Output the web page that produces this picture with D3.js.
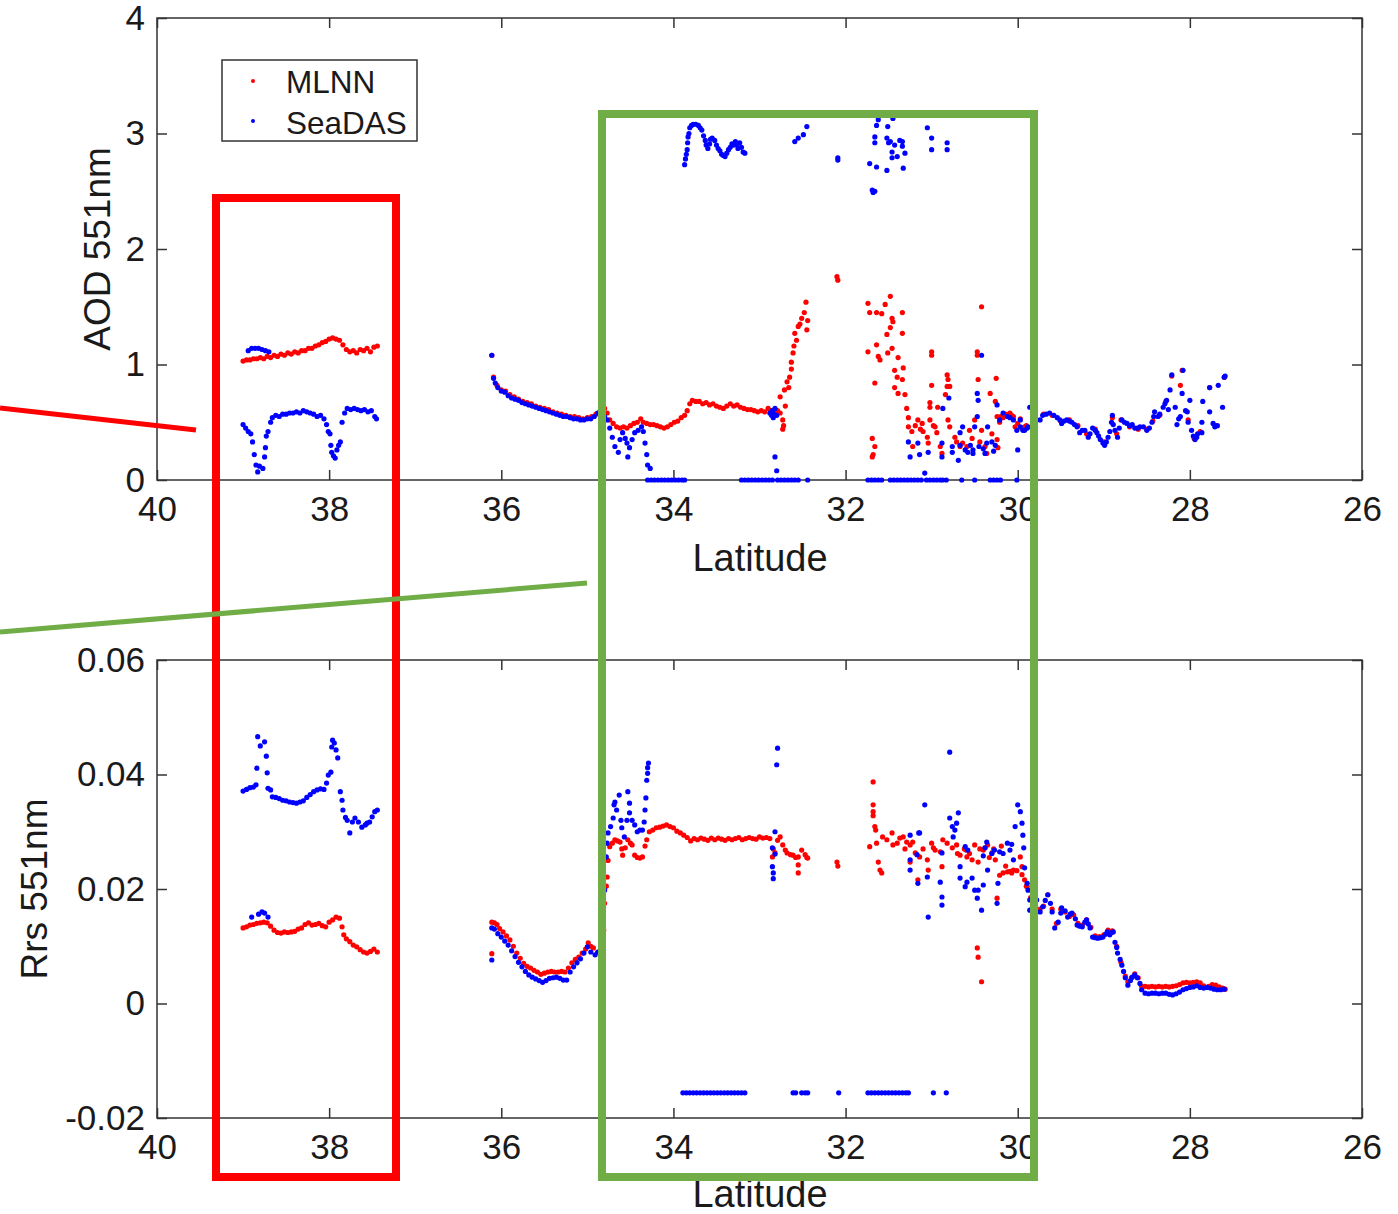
<!DOCTYPE html>
<html>
<head>
<meta charset="utf-8">
<script src="https://cdn.jsdelivr.net/npm/d3@7"></script>
<style>
  body { margin: 0; background: #fff; }
  text { font-family: "Liberation Sans", Arial, sans-serif; fill: #1a1a1a; }
</style>
</head>
<body>
<script>
// latitude ticks (x runs from 40 down to 26)
const latTicks = [40, 38, 36, 34, 32, 30, 28, 26];
const aodTicks = [0, 1, 2, 3, 4];
const rrsTicks = [-0.02, 0, 0.02, 0.04, 0.06];
const rrsTickLabels = ['-0.02', '0', '0.02', '0.04', '0.06'];
const seriesNames = ['MLNN', 'SeaDAS'];

// AOD 551nm, MLNN  [latitude, value]
const aodMlnn = [
  [39.00,1.03],[38.96,1.04],[38.92,1.04],[38.88,1.05],[38.84,1.05],[38.80,1.06],[38.76,1.05],[38.72,1.07],[38.68,1.06],[38.64,1.08],
  [38.60,1.07],[38.56,1.09],[38.52,1.08],[38.48,1.10],[38.44,1.09],[38.40,1.11],[38.36,1.10],[38.32,1.12],[38.28,1.12],[38.24,1.14],
  [38.20,1.14],[38.16,1.16],[38.12,1.17],[38.08,1.19],[38.04,1.20],[38.00,1.22],[37.96,1.23],[37.92,1.22],[37.88,1.21],[37.84,1.17],
  [37.80,1.13],[37.76,1.11],[37.72,1.12],[37.68,1.10],[37.64,1.13],[37.60,1.12],[37.56,1.14],[37.52,1.11],[37.48,1.15],[37.44,1.16],
  [36.11,1.08],[36.09,0.89],[36.05,0.82],[36.00,0.78],[35.95,0.77],[35.90,0.74],[35.85,0.72],[35.80,0.70],[35.75,0.68],[35.70,0.67],
  [35.65,0.66],[35.60,0.64],[35.55,0.63],[35.50,0.62],[35.45,0.61],[35.40,0.59],[35.35,0.58],[35.30,0.57],[35.25,0.56],[35.20,0.55],
  [35.15,0.55],[35.10,0.54],[35.05,0.53],[35.00,0.54],[34.95,0.55],[34.90,0.57],[34.85,0.60],[34.80,0.62],[34.77,0.58],[34.74,0.52],
  [34.70,0.49],[34.66,0.46],[34.62,0.45],[34.58,0.46],[34.54,0.45],[34.50,0.47],[34.46,0.49],[34.42,0.50],[34.38,0.53],[34.35,0.50],
  [34.31,0.49],[34.27,0.48],[34.23,0.48],[34.19,0.47],[34.15,0.46],[34.11,0.45],[34.07,0.46],[34.03,0.48],[33.99,0.50],[33.95,0.51],
  [33.91,0.54],[33.87,0.56],[33.84,0.60],[33.81,0.66],[33.78,0.69],[33.74,0.68],[33.70,0.68],[33.66,0.66],[33.62,0.67],[33.58,0.65],
  [33.54,0.66],[33.50,0.64],[33.46,0.63],[33.42,0.62],[33.38,0.64],[33.34,0.66],[33.30,0.64],[33.26,0.65],[33.22,0.63],[33.18,0.62],
  [33.14,0.61],[33.10,0.61],[33.06,0.60],[33.02,0.59],[32.98,0.60],[32.94,0.59],[32.90,0.62],[32.86,0.60],[32.82,0.58],[32.79,0.60],
  [32.76,0.58],[32.73,0.52],[32.72,0.47],[32.73,0.44],[32.76,0.72],[32.71,0.78],[32.68,0.85],[32.65,0.89],[32.63,0.96],[32.63,1.02],
  [32.61,1.10],[32.60,1.16],[32.59,1.27],[32.57,1.21],[32.55,1.33],[32.53,1.35],[32.51,1.40],[32.48,1.45],[32.46,1.54],[32.45,1.30],
  [32.44,1.38],[32.66,0.80],[32.70,0.64],[32.10,1.76],[32.09,1.73],
  [31.74,1.53],[31.72,1.45],[31.64,1.45],[31.58,1.44],[31.54,1.52],[31.48,1.59],[31.46,1.40],[31.45,1.37],[31.34,1.45],[31.48,1.32],
  [31.52,1.26],[31.34,1.27],[31.74,1.11],[31.64,1.17],[31.62,1.07],[31.60,1.04],[31.51,1.10],[31.46,1.14],[31.39,1.06],[31.43,0.95],
  [31.33,0.97],[31.40,0.89],[31.34,0.87],[31.43,0.80],[31.39,0.75],[31.31,0.74],[31.29,0.62],[31.66,0.84],[31.69,0.36],[31.66,0.29],
  [31.68,0.22],[31.69,0.20],[31.27,0.54],[31.27,0.46],[31.23,0.42],[31.16,0.52],[31.11,0.49],[31.10,0.42],[31.05,0.37],[31.04,0.32],
  [31.02,0.63],[31.00,1.11],[31.00,1.08],[31.02,0.52],[30.96,0.46],[30.94,0.41],[30.90,0.29],[30.88,0.23],[31.00,0.82],[31.02,0.67],
  [30.82,0.91],[30.82,0.81],[30.81,0.87],[30.79,0.81],[30.84,0.74],[30.81,0.52],[30.79,0.46],[30.73,0.37],[30.71,0.33],[30.67,0.29],
  [30.64,0.32],[30.59,0.29],[30.47,1.11],[30.47,1.08],[30.46,0.87],[30.42,1.50],[30.50,0.52],[30.42,0.43],[30.38,0.29],[30.36,0.23],
  [30.32,0.75],[30.25,0.88],[30.26,0.68],[30.24,0.55],[30.24,0.35],[30.23,0.28],[30.17,0.54],[30.12,0.56],[30.09,0.58],[30.05,0.55],
  [30.03,0.46],[30.00,0.49],[29.95,0.45],[29.92,0.46],[30.21,0.50],[31.22,0.29],[30.93,0.63],[31.19,0.47],[31.13,0.44],[30.98,0.47],
  [30.56,0.43],[30.53,0.36],[30.44,0.33],[30.30,0.40],[30.20,0.55],[30.14,0.57],[30.07,0.56],
  [29.97,0.53],[29.90,0.47],[29.80,0.52],[29.70,0.57],[29.60,0.56],[29.50,0.51],[29.40,0.52],[29.30,0.47],[29.20,0.40],[29.10,0.44],
  [29.00,0.33],[28.90,0.54],[28.85,0.40],[28.80,0.52],[28.70,0.46],[28.60,0.44],[28.50,0.44],[28.43,0.51],[28.35,0.56],[28.28,0.68],
  [28.21,0.90],[28.11,0.82],[28.09,0.95],[28.02,0.52],[27.95,0.36],[27.88,0.42],[27.77,0.80],[27.70,0.47],[27.60,0.89]
];

// AOD 551nm, SeaDAS  [latitude, value]
const aodSeadas = [
  [38.94,1.12],[38.90,1.14],[38.86,1.14],[38.82,1.14],[38.78,1.13],[38.74,1.12],[38.70,1.11],
  [39.00,0.48],[38.97,0.45],[38.94,0.42],[38.91,0.40],[38.89,0.33],[38.87,0.22],[38.85,0.13],[38.83,0.07],[38.81,0.12],[38.77,0.10],
  [38.75,0.20],[38.74,0.28],[38.73,0.38],[38.71,0.42],[38.68,0.50],[38.66,0.54],[38.62,0.56],[38.58,0.55],[38.54,0.57],[38.50,0.57],
  [38.46,0.58],[38.42,0.58],[38.38,0.59],[38.34,0.58],[38.30,0.60],[38.26,0.59],[38.22,0.58],[38.18,0.57],[38.14,0.55],[38.10,0.56],
  [38.06,0.53],[38.03,0.48],[38.01,0.42],[37.99,0.40],[37.98,0.30],[37.97,0.24],[37.95,0.21],[37.93,0.19],[37.91,0.26],[37.89,0.30],
  [37.87,0.33],[37.85,0.50],[37.82,0.58],[37.79,0.62],[37.75,0.61],[37.71,0.62],[37.67,0.61],[37.63,0.60],[37.59,0.61],[37.55,0.59],
  [37.51,0.60],[37.47,0.55],[37.45,0.53],
  [36.11,1.08],[36.09,0.88],[36.07,0.84],[36.04,0.80],[36.00,0.77],[35.96,0.76],[35.92,0.73],[35.88,0.71],[35.84,0.70],[35.80,0.69],
  [35.76,0.67],[35.72,0.66],[35.68,0.65],[35.64,0.64],[35.60,0.63],[35.56,0.62],[35.52,0.61],[35.48,0.60],[35.44,0.59],[35.40,0.58],
  [35.36,0.57],[35.32,0.56],[35.28,0.55],[35.24,0.55],[35.20,0.54],[35.16,0.53],[35.12,0.53],[35.08,0.52],[35.04,0.52],[35.00,0.53],
  [34.96,0.53],[34.92,0.55],[34.88,0.58],[34.84,0.60],[34.80,0.55],[34.77,0.52],[34.74,0.45],[34.71,0.37],[34.68,0.29],[34.64,0.24],
  [34.62,0.35],[34.59,0.41],[34.56,0.36],[34.54,0.32],[34.53,0.20],[34.51,0.28],[34.48,0.35],[34.45,0.41],[34.41,0.43],[34.37,0.46],
  [34.35,0.42],[34.33,0.32],[34.31,0.22],[34.30,0.13],[34.27,0.10],
  [33.87,2.73],[33.86,2.78],[33.85,2.82],[33.84,2.86],[33.835,2.92],[33.83,2.97],[33.82,3.00],[33.81,3.05],[33.79,3.07],[33.77,3.08],
  [33.74,3.08],[33.71,3.07],[33.69,3.05],[33.67,3.03],[33.65,2.98],[33.63,2.94],[33.62,2.90],[33.60,2.87],[33.58,2.91],[33.57,2.95],
  [33.55,2.96],[33.52,2.94],[33.50,2.90],[33.48,2.87],[33.46,2.85],[33.44,2.82],[33.42,2.81],[33.40,2.80],[33.38,2.83],[33.36,2.86],
  [33.34,2.88],[33.32,2.91],[33.30,2.90],[33.28,2.93],[33.26,2.90],[33.25,2.87],[33.23,2.92],[33.21,2.88],[33.19,2.84],[33.17,2.83],
  [32.59,2.93],[32.55,2.96],[32.49,2.99],[32.45,3.06],[32.09,2.79],[32.09,2.77],
  [31.72,2.74],[31.68,2.49],[31.69,2.51],[31.66,2.50],[31.64,2.71],[31.66,2.92],[31.64,3.07],[31.62,3.12],[31.66,2.97],[31.52,2.68],
  [31.52,2.96],[31.51,3.06],[31.48,2.93],[31.46,2.84],[31.46,2.79],[31.45,3.13],[31.40,2.80],[31.37,2.94],[31.34,2.89],[31.33,2.70],
  [31.31,2.83],[31.34,2.93],[31.50,2.92],[31.43,2.90],[31.05,3.05],[31.00,2.96],[31.00,2.86],[30.82,2.92],[30.82,2.86],
  [32.88,0.58],[32.86,0.56],[32.85,0.60],[32.84,0.54],[32.83,0.57],[32.82,0.62],[32.80,0.56],[32.82,0.20],[32.80,0.08],
  [31.27,0.33],[31.25,0.20],[31.16,0.32],[31.14,0.22],[31.04,0.24],[31.08,0.06],[30.88,0.32],[30.88,0.20],[30.87,0.62],[30.80,0.71],
  [30.76,0.29],[30.76,0.24],[30.69,0.17],[30.67,0.41],[30.64,0.46],[30.61,0.26],[30.58,0.24],[30.55,0.30],[30.52,0.23],[30.47,0.75],
  [30.46,0.69],[30.47,0.55],[30.50,0.46],[30.42,1.08],[30.38,0.23],[30.35,0.46],[30.36,0.32],[30.24,0.65],[30.21,0.52],[30.17,0.58],
  [30.12,0.55],[30.09,0.54],[30.05,0.52],[30.01,0.43],[30.00,0.26],[29.97,0.46],[29.94,0.43],[29.89,0.45],[29.86,0.63],[30.67,0.30],
  [30.52,0.26],[30.45,0.29],[30.40,0.27],[30.30,0.33],[30.28,0.25],[30.26,0.30],
  [29.97,0.52],[29.92,0.43],[29.88,0.46],[29.83,0.63],[29.80,0.50],[29.74,0.52],[29.71,0.56],[29.67,0.57],[29.63,0.58],[29.58,0.56],
  [29.54,0.54],[29.51,0.52],[29.49,0.49],[29.46,0.51],[29.43,0.52],[29.40,0.51],[29.37,0.50],[29.34,0.48],[29.31,0.46],[29.28,0.41],
  [29.25,0.43],[29.22,0.43],[29.18,0.37],[29.16,0.40],[29.13,0.45],[29.10,0.43],[29.08,0.41],[29.06,0.38],[29.04,0.35],[29.01,0.32],
  [28.99,0.30],[28.97,0.33],[28.95,0.37],[28.93,0.42],[28.91,0.50],[28.90,0.56],[28.89,0.48],[28.87,0.43],[28.84,0.37],[28.82,0.45],
  [28.79,0.52],[28.76,0.50],[28.73,0.49],[28.70,0.47],[28.67,0.48],[28.64,0.45],[28.61,0.45],[28.58,0.46],[28.54,0.46],[28.50,0.43],
  [28.47,0.45],[28.44,0.50],[28.42,0.55],[28.41,0.59],[28.37,0.55],[28.35,0.57],[28.31,0.63],[28.29,0.66],[28.27,0.69],[28.25,0.61],
  [28.23,0.78],[28.21,0.91],[28.17,0.63],[28.15,0.48],[28.13,0.53],[28.11,0.55],[28.09,0.75],[28.08,0.95],[28.05,0.60],[28.03,0.59],
  [28.02,0.50],[28.00,0.69],[27.98,0.43],[27.96,0.38],[27.94,0.35],[27.92,0.37],[27.91,0.40],[27.86,0.41],[27.86,0.50],[27.85,0.68],
  [27.77,0.80],[27.77,0.59],[27.73,0.49],[27.71,0.46],[27.68,0.47],[27.67,0.82],[27.62,0.63],[27.60,0.89],[27.59,0.90]
];

// AOD SeaDAS retrievals that sit at zero
const aodSeadasZero = [
  [34.30,0],[34.26,0],[34.22,0],[34.18,0],[34.14,0],[34.10,0],[34.06,0],[34.02,0],[33.98,0],[33.94,0],[33.90,0],[33.87,0],
  [33.21,0],[33.17,0],[33.13,0],[33.09,0],[33.05,0],[33.01,0],[32.97,0],[32.93,0],[32.89,0],[32.85,0],
  [32.79,0],[32.75,0],[32.71,0],[32.67,0],[32.63,0],[32.59,0],[32.55,0],[32.44,0],
  [31.74,0],[31.70,0],[31.66,0],[31.62,0],[31.58,0],
  [31.48,0],[31.44,0],[31.40,0],[31.36,0],[31.32,0],[31.28,0],[31.24,0],[31.20,0],[31.16,0],[31.12,0],
  [31.06,0],[31.02,0],[30.98,0],[30.94,0],[30.90,0],[30.87,0],[30.83,0],[30.65,0],[30.50,0],
  [30.32,0],[30.28,0],[30.24,0],[30.20,0],[30.01,0]
];

// Rrs 551nm, MLNN  [latitude, value]
const rrsMlnn = [
  [39.00,0.0132],[38.96,0.0134],[38.92,0.0137],[38.88,0.0138],[38.84,0.0140],[38.80,0.0141],[38.76,0.0142],[38.72,0.0141],[38.68,0.0135],[38.64,0.0128],
  [38.60,0.0124],[38.56,0.0123],[38.52,0.0125],[38.48,0.0124],[38.44,0.0125],[38.40,0.0126],[38.36,0.0130],[38.32,0.0132],[38.28,0.0138],[38.24,0.0141],
  [38.20,0.0137],[38.16,0.0138],[38.12,0.0140],[38.08,0.0136],[38.04,0.0134],[38.00,0.0142],[37.96,0.0146],[37.92,0.0151],[37.88,0.0149],[37.85,0.0134],
  [37.83,0.0120],[37.80,0.0113],[37.76,0.0108],[37.72,0.0102],[37.68,0.0099],[37.64,0.0094],[37.60,0.0090],[37.56,0.0088],[37.52,0.0091],[37.48,0.0095],[37.44,0.0090],
  [36.11,0.0142],[36.11,0.0087],[36.08,0.0141],[36.05,0.0138],[36.02,0.0131],[35.98,0.0125],[35.94,0.0118],[35.90,0.0111],[35.86,0.0100],[35.82,0.0088],
  [35.78,0.0079],[35.74,0.0070],[35.70,0.0065],[35.66,0.0062],[35.62,0.0058],[35.58,0.0055],[35.54,0.0051],[35.50,0.0053],[35.46,0.0055],[35.42,0.0056],
  [35.38,0.0055],[35.34,0.0055],[35.30,0.0056],[35.26,0.0055],[35.22,0.0062],[35.18,0.0071],[35.14,0.0077],[35.10,0.0081],[35.06,0.0088],[35.02,0.0095],
  [34.99,0.0106],[34.96,0.0100],[34.93,0.0097],[34.83,0.0090],[34.81,0.0128],[34.80,0.0175],[34.78,0.0205],[34.77,0.0221],[34.76,0.0250],[34.74,0.0274],
  [34.71,0.0280],[34.68,0.0286],[34.65,0.0284],[34.62,0.0282],[34.60,0.0270],[34.59,0.0259],[34.56,0.0272],[34.53,0.0286],[34.50,0.0280],[34.48,0.0277],
  [34.45,0.0259],[34.42,0.0255],[34.39,0.0254],[34.36,0.0256],[34.33,0.0275],[34.31,0.0286],[34.28,0.0300],[34.24,0.0303],[34.20,0.0307],[34.16,0.0308],
  [34.12,0.0310],[34.08,0.0312],[34.04,0.0309],[34.00,0.0307],[33.96,0.0301],[33.92,0.0298],[33.88,0.0294],[33.84,0.0290],[33.80,0.0284],[33.76,0.0288],
  [33.72,0.0286],[33.68,0.0289],[33.64,0.0287],[33.60,0.0285],[33.56,0.0289],[33.52,0.0286],[33.48,0.0289],[33.44,0.0287],[33.40,0.0285],[33.36,0.0288],
  [33.32,0.0286],[33.28,0.0288],[33.24,0.0290],[33.20,0.0286],[33.16,0.0288],[33.12,0.0290],[33.08,0.0288],[33.04,0.0287],[33.00,0.0291],[32.96,0.0289],
  [32.92,0.0290],[32.88,0.0288],[32.85,0.0256],[32.84,0.0270],[32.82,0.0263],[32.79,0.0285],[32.76,0.0291],[32.73,0.0277],[32.70,0.0268],[32.68,0.0263],
  [32.64,0.0260],[32.61,0.0259],[32.58,0.0255],[32.55,0.0256],[32.55,0.0242],[32.55,0.0228],[32.51,0.0268],[32.47,0.0260],[32.45,0.0255],[32.44,0.0254],
  [32.10,0.0247],[32.09,0.0240],
  [31.68,0.0387],[31.68,0.0347],[31.68,0.0335],[31.68,0.0328],[31.66,0.0309],[31.65,0.0303],[31.72,0.0274],[31.64,0.0280],[31.62,0.0247],[31.60,0.0233],
  [31.58,0.0228],[31.52,0.0286],[31.46,0.0298],[31.45,0.0277],[31.40,0.0280],[31.37,0.0289],[31.33,0.0291],[31.29,0.0282],[31.25,0.0277],[31.22,0.0282],
  [31.19,0.0263],[31.25,0.0247],[31.14,0.0256],[31.16,0.0216],[31.05,0.0251],[31.04,0.0233],[31.00,0.0280],[30.96,0.0268],[30.90,0.0265],[30.88,0.0239],
  [30.82,0.0280],[30.76,0.0272],[30.71,0.0277],[30.67,0.0259],[30.59,0.0256],[30.53,0.0251],[30.50,0.0277],[30.46,0.0247],[30.47,0.0097],[30.46,0.0081],
  [30.42,0.0038],[30.38,0.0272],[30.35,0.0277],[30.30,0.0263],[30.26,0.0251],[30.24,0.0184],[30.21,0.0224],[30.17,0.0228],[30.12,0.0230],[30.09,0.0231],
  [30.05,0.0233],[30.01,0.0232],[29.97,0.0256],[29.95,0.0239],[29.92,0.0216],[29.89,0.0204],[30.87,0.0286],[31.57,0.0291],[30.60,0.0268],[30.56,0.0262],
  [30.40,0.0268],[30.28,0.0270],[30.14,0.0240],[30.07,0.0228],[30.19,0.0275],[30.70,0.0262],[30.62,0.0270],[30.33,0.0255],[30.44,0.0270],[31.10,0.0270],
  [30.98,0.0272],[31.31,0.0270],
  [29.95,0.0225],[29.90,0.0205],[29.85,0.0185],[29.80,0.0178],[29.74,0.0165],[29.70,0.0170],[29.65,0.0190],[29.60,0.0165],[29.55,0.0140],[29.50,0.0165],
  [29.45,0.0160],[29.40,0.0152],[29.35,0.0155],[29.30,0.0140],[29.25,0.0137],[29.20,0.0146],[29.15,0.0133],[29.10,0.0118],[29.05,0.0117],[29.00,0.0120],
  [28.95,0.0128],[28.90,0.0127],[28.85,0.0100],[28.80,0.0072],[28.75,0.0048],[28.72,0.0038],[28.68,0.0045],[28.64,0.0052],[28.60,0.0045],[28.56,0.0030],
  [28.52,0.0030],[28.48,0.0029],[28.44,0.0030],[28.40,0.0029],[28.36,0.0030],[28.32,0.0029],[28.28,0.0030],[28.24,0.0029],[28.20,0.0030],[28.16,0.0031],
  [28.12,0.0033],[28.08,0.0036],[28.04,0.0037],[28.00,0.0036],[27.96,0.0037],[27.92,0.0038],[27.88,0.0036],[27.84,0.0031],[27.78,0.0030],[27.74,0.0033],
  [27.70,0.0032],[27.66,0.0029],[27.62,0.0027],[27.59,0.0025]
];

// Rrs 551nm, SeaDAS  [latitude, value]
const rrsSeadas = [
  [39.00,0.0371],[38.96,0.0374],[38.92,0.0377],[38.88,0.0378],[38.85,0.0382],[38.84,0.0411],[38.83,0.0466],[38.80,0.0450],[38.75,0.0457],[38.73,0.0432],
  [38.72,0.0403],[38.71,0.0376],[38.68,0.0373],[38.66,0.0361],[38.62,0.0360],[38.58,0.0358],[38.54,0.0355],[38.50,0.0354],[38.46,0.0352],[38.42,0.0351],
  [38.38,0.0350],[38.34,0.0352],[38.30,0.0354],[38.26,0.0360],[38.22,0.0365],[38.18,0.0370],[38.14,0.0373],[38.10,0.0375],[38.06,0.0374],[38.03,0.0385],
  [38.01,0.0399],[37.98,0.0404],[37.97,0.0448],[37.96,0.0460],[37.94,0.0455],[37.92,0.0443],[37.90,0.0429],[37.87,0.0370],[37.85,0.0355],[37.84,0.0338],
  [37.81,0.0325],[37.79,0.0320],[37.76,0.0298],[37.73,0.0317],[37.70,0.0324],[37.66,0.0317],[37.62,0.0308],[37.58,0.0312],[37.56,0.0315],[37.53,0.0317],
  [37.50,0.0326],[37.47,0.0335],[37.44,0.0338],
  [38.90,0.0151],[38.82,0.0156],[38.78,0.0160],[38.75,0.0158],[38.71,0.0151],
  [36.11,0.0132],[36.11,0.0076],[36.08,0.0130],[36.04,0.0122],[36.00,0.0116],[35.96,0.0109],[35.92,0.0102],[35.88,0.0092],[35.84,0.0082],[35.80,0.0072],
  [35.76,0.0064],[35.72,0.0056],[35.68,0.0050],[35.64,0.0046],[35.60,0.0043],[35.56,0.0040],[35.52,0.0037],[35.48,0.0040],[35.44,0.0044],[35.40,0.0045],
  [35.36,0.0046],[35.32,0.0044],[35.28,0.0041],[35.24,0.0041],[35.20,0.0055],[35.16,0.0064],[35.12,0.0071],[35.08,0.0078],[35.04,0.0088],[35.00,0.0099],
  [34.96,0.0090],[34.91,0.0085],[34.88,0.0090],
  [34.80,0.0198],[34.78,0.0256],[34.77,0.0280],[34.76,0.0298],[34.73,0.0309],[34.70,0.0324],[34.69,0.0347],[34.68,0.0352],[34.66,0.0338],[34.63,0.0364],
  [34.61,0.0320],[34.60,0.0307],[34.57,0.0291],[34.54,0.0320],[34.53,0.0370],[34.51,0.0350],[34.51,0.0333],[34.48,0.0320],[34.45,0.0312],[34.42,0.0300],
  [34.39,0.0303],[34.36,0.0303],[34.34,0.0317],[34.33,0.0338],[34.32,0.0359],[34.31,0.0390],[34.30,0.0402],[34.30,0.0412],[34.29,0.0420],
  [32.85,0.0272],[32.85,0.0239],[32.84,0.0228],[32.84,0.0218],[32.82,0.0300],[32.80,0.0417],[32.79,0.0446],[32.82,0.0261],
  [31.08,0.0347],[31.25,0.0294],[31.15,0.0298],[31.25,0.0251],[31.25,0.0233],[31.16,0.0210],[31.05,0.0221],[31.04,0.0151],[30.90,0.0212],[30.88,0.0186],
  [30.88,0.0172],[30.79,0.0324],[30.79,0.0439],[30.76,0.0309],[30.73,0.0303],[30.71,0.0315],[30.69,0.0333],[30.75,0.0291],[30.67,0.0239],[30.67,0.0219],
  [30.61,0.0204],[30.59,0.0212],[30.61,0.0274],[30.58,0.0268],[30.53,0.0219],[30.50,0.0198],[30.47,0.0184],[30.46,0.0198],[30.42,0.0163],[30.40,0.0207],
  [30.36,0.0282],[30.38,0.0272],[30.35,0.0233],[30.24,0.0175],[30.23,0.0210],[30.21,0.0265],[30.17,0.0262],[30.12,0.0280],[30.09,0.0268],[30.07,0.0278],
  [30.05,0.0251],[30.03,0.0309],[30.00,0.0347],[29.97,0.0335],[29.95,0.0315],[29.94,0.0294],[29.93,0.0272],[29.92,0.0237],[31.17,0.0260],[30.88,0.0263],
  [31.14,0.0298],[30.40,0.0258],[30.30,0.0262],[30.27,0.0268],
  [29.89,0.0210],[29.88,0.0198],[29.86,0.0181],[29.86,0.0163],[29.83,0.0167],[29.80,0.0172],[29.78,0.0181],[29.74,0.0160],[29.71,0.0169],[29.68,0.0180],
  [29.65,0.0190],[29.62,0.0175],[29.60,0.0160],[29.57,0.0132],[29.53,0.0142],[29.50,0.0158],[29.49,0.0167],[29.45,0.0162],[29.42,0.0151],[29.39,0.0156],
  [29.37,0.0158],[29.33,0.0148],[29.31,0.0137],[29.28,0.0135],[29.25,0.0134],[29.22,0.0142],[29.20,0.0146],[29.18,0.0139],[29.16,0.0132],[29.13,0.0116],
  [29.10,0.0115],[29.07,0.0114],[29.04,0.0115],[29.01,0.0116],[28.98,0.0121],[28.96,0.0125],[28.93,0.0120],[28.91,0.0124],[28.89,0.0125],[28.87,0.0107],
  [28.85,0.0098],[28.84,0.0088],[28.81,0.0077],[28.79,0.0067],[28.77,0.0056],[28.75,0.0045],[28.72,0.0032],[28.69,0.0040],[28.67,0.0046],[28.64,0.0050],
  [28.61,0.0045],[28.58,0.0035],[28.56,0.0024],[28.52,0.0018],[28.48,0.0017],[28.44,0.0018],[28.40,0.0018],[28.36,0.0017],[28.32,0.0018],[28.28,0.0018],
  [28.24,0.0016],[28.20,0.0015],[28.16,0.0017],[28.12,0.0020],[28.08,0.0024],[28.04,0.0026],[28.00,0.0028],[27.96,0.0029],[27.92,0.0031],[27.88,0.0028],
  [27.84,0.0027],[27.80,0.0028],[27.76,0.0027],[27.72,0.0025],[27.68,0.0024],[27.64,0.0024],[27.60,0.0025]
];

// Rrs SeaDAS retrievals stuck at the fill value
const rrsSeadasFill = [
  [33.89,-0.0156],[33.85,-0.0156],[33.81,-0.0156],[33.77,-0.0156],[33.73,-0.0156],[33.69,-0.0156],[33.65,-0.0156],[33.61,-0.0156],
  [33.57,-0.0156],[33.53,-0.0156],[33.49,-0.0156],[33.45,-0.0156],[33.41,-0.0156],[33.37,-0.0156],[33.33,-0.0156],[33.29,-0.0156],
  [33.25,-0.0156],[33.21,-0.0156],[33.17,-0.0156],[32.61,-0.0156],[32.58,-0.0156],[32.51,-0.0156],[32.47,-0.0156],[32.44,-0.0156],
  [32.08,-0.0156],[31.74,-0.0156],[31.70,-0.0156],[31.66,-0.0156],[31.62,-0.0156],[31.58,-0.0156],[31.54,-0.0156],[31.50,-0.0156],
  [31.46,-0.0156],[31.42,-0.0156],[31.38,-0.0156],[31.34,-0.0156],[31.30,-0.0156],[31.27,-0.0156],[30.98,-0.0156],[30.83,-0.0156]
];

const RED = '#ff0000', BLUE = '#0000ff', AXIS = '#333333';

const svg = d3.select('body').append('svg')
    .attr('width', 1398)
    .attr('height', 1214);

const x = d3.scaleLinear().domain([40, 26]).range([157, 1362]);
const yAod = d3.scaleLinear().domain([0, 4]).range([480, 18]);
const yRrs = d3.scaleLinear().domain([-0.02, 0.06]).range([1118, 660]);

// draw one MATLAB-style boxed panel
function drawPanel(y, yTicks, yFmt, yLabel, yLabelX, xLabelY) {
    const [bottom, top] = y.range();
    const g = svg.append('g');

    g.append('rect')
        .attr('x', 157).attr('y', top)
        .attr('width', 1362 - 157).attr('height', bottom - top)
        .attr('fill', 'none').attr('stroke', AXIS).attr('stroke-width', 1.5);

    const styleAxis = sel => {
        sel.select('.domain').remove();
        sel.selectAll('line').attr('stroke', AXIS).attr('stroke-width', 1.5);
        sel.selectAll('text').attr('font-size', 35).attr('fill', '#1a1a1a')
            .style('font-family', '"Liberation Sans", Arial, sans-serif');
    };

    g.append('g').attr('transform', `translate(0,${bottom})`)
        .call(d3.axisBottom(x).tickValues(latTicks).tickSize(-10).tickPadding(16).tickFormat(d3.format('d')))
        .call(styleAxis);
    g.append('g').attr('transform', `translate(0,${top})`)
        .call(d3.axisTop(x).tickValues(latTicks).tickSize(-10).tickFormat(''))
        .call(styleAxis);
    g.append('g').attr('transform', 'translate(157,0)')
        .call(d3.axisLeft(y).tickValues(yTicks).tickSize(-10).tickPadding(12).tickFormat(yFmt))
        .call(styleAxis);
    g.append('g').attr('transform', 'translate(1362,0)')
        .call(d3.axisRight(y).tickValues(yTicks).tickSize(-10).tickFormat(''))
        .call(styleAxis);

    g.append('text')
        .attr('transform', `translate(${yLabelX},${(top + bottom) / 2}) rotate(-90)`)
        .attr('text-anchor', 'middle')
        .attr('font-size', 37)
        .text(yLabel);

    g.append('text')
        .attr('x', 760).attr('y', xLabelY)
        .attr('text-anchor', 'middle')
        .attr('font-size', 38)
        .text('Latitude');
}

function drawDots(data, y, color) {
    svg.append('g')
        .selectAll('circle')
        .data(data)
        .join('circle')
        .attr('cx', d => x(d[0]))
        .attr('cy', d => y(d[1]))
        .attr('r', 2.6)
        .attr('fill', color);
}

drawPanel(yAod, aodTicks, d3.format('d'), 'AOD 551nm', 110, 571);
drawPanel(yRrs, rrsTicks, (d, i) => rrsTickLabels[i], 'Rrs 551nm', 47, 1207);

drawDots(aodMlnn, yAod, RED);
drawDots(aodSeadas, yAod, BLUE);
drawDots(aodSeadasZero, yAod, BLUE);
drawDots(rrsMlnn, yRrs, RED);
drawDots(rrsSeadas, yRrs, BLUE);
drawDots(rrsSeadasFill, yRrs, BLUE);

// legend
const legend = svg.append('g');
legend.append('rect')
    .attr('x', 222).attr('y', 60).attr('width', 195).attr('height', 81)
    .attr('fill', '#fff').attr('stroke', AXIS).attr('stroke-width', 1.5);
seriesNames.forEach((name, i) => {
    legend.append('circle')
        .attr('cx', 253).attr('cy', 81 + i * 40)
        .attr('r', 2).attr('fill', i === 0 ? RED : BLUE);
    legend.append('text')
        .attr('x', 286).attr('y', 93 + i * 41)
        .attr('font-size', 31.5)
        .text(name);
});

// highlight boxes and connector lines drawn over the chart
const notes = svg.append('g').attr('fill', 'none');
notes.append('rect')
    .attr('x', 216).attr('y', 198).attr('width', 180).attr('height', 979)
    .attr('stroke', '#ff0000').attr('stroke-width', 8);
notes.append('line')
    .attr('x1', 0).attr('y1', 408).attr('x2', 196).attr('y2', 430)
    .attr('stroke', '#ff0000').attr('stroke-width', 5);
notes.append('rect')
    .attr('x', 602).attr('y', 114).attr('width', 432).attr('height', 1063)
    .attr('stroke', '#70ad47').attr('stroke-width', 8);
notes.append('line')
    .attr('x1', 0).attr('y1', 632).attr('x2', 587).attr('y2', 583)
    .attr('stroke', '#70ad47').attr('stroke-width', 5);
</script>
</body>
</html>
